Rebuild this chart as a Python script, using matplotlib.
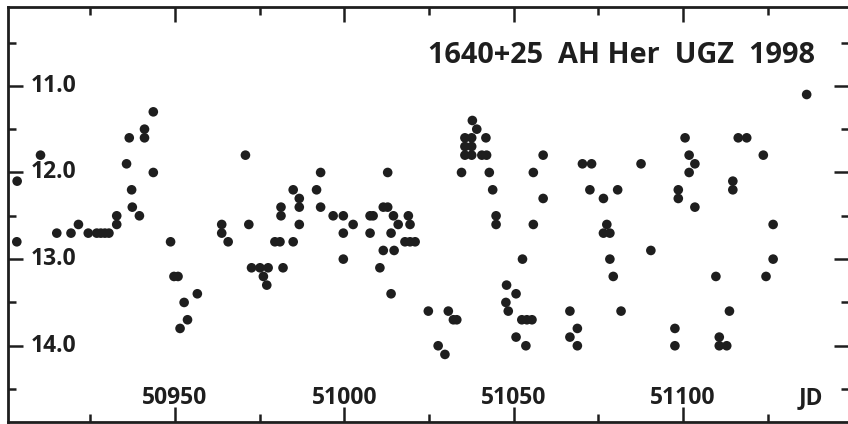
import numpy as np
import matplotlib
matplotlib.use("Agg")
import matplotlib.pyplot as plt
from matplotlib.ticker import MultipleLocator
import matplotlib.transforms as mtransforms

plt.rcParams['font.family'] = ['Open Sans', 'DejaVu Sans']

# AH Her 1998 light curve (JD - 2400000, visual magnitude)
jd = [50903.4, 50903.3, 50910.3, 50915.1, 50919.3, 50921.5, 50924.4, 50926.9,
      50928.1, 50929.3, 50930.5, 50932.8, 50932.8, 50935.7, 50936.5, 50937.2,
      50937.4, 50939.5, 50941.0, 50941.0, 50943.6, 50943.6, 50948.7, 50949.7,
      50950.9, 50952.7, 50953.7, 50951.5, 50956.6, 50963.8, 50963.8, 50965.7,
      50970.8, 50971.8, 50972.6, 50975.1, 50977.5, 50976.1, 50977.1, 50979.5,
      50981.0, 50981.3, 50981.3, 50981.9, 50984.9, 50984.9, 50986.7, 50986.7,
      50986.7, 50991.8, 50993.0, 50993.0, 50996.7, 50999.7, 50999.7, 50999.7,
      51002.6, 51007.6, 51007.6, 51008.5, 51010.5, 51011.5, 51011.5, 51012.8,
      51012.8, 51013.8, 51013.8, 51014.5, 51014.7, 51015.9, 51018.9, 51019.4,
      51017.9, 51019.4, 51020.9, 51024.8, 51027.7, 51029.7, 51030.7, 51032.2,
      51033.2, 51034.6, 51035.6, 51035.6, 51035.6, 51037.6, 51037.6, 51037.6,
      51037.8, 51039.1, 51040.6, 51041.8, 51042.0, 51042.8, 51043.8, 51044.8,
      51044.8, 51047.9, 51047.7, 51048.4, 51050.7, 51050.7, 51052.4, 51052.6,
      51053.6, 51053.9, 51055.4, 51055.8, 51055.8, 51058.7, 51058.7, 51066.6,
      51066.6, 51068.8, 51068.8, 51070.3, 51072.5, 51073.0, 51076.5, 51076.5,
      51077.5, 51078.4, 51078.4, 51079.4, 51080.7, 51081.7, 51087.6, 51090.5,
      51097.6, 51097.6, 51098.6, 51098.6, 51100.6, 51101.8, 51101.8, 51103.5,
      51103.5, 51109.7, 51110.7, 51110.7, 51112.9, 51113.7, 51114.7, 51114.7,
      51116.3, 51118.8, 51123.7, 51124.5, 51126.6, 51126.6, 51136.5]
mag = [12.1, 12.8, 11.8, 12.7, 12.7, 12.6, 12.7, 12.7,
       12.7, 12.7, 12.7, 12.6, 12.5, 11.9, 11.6, 12.2,
       12.4, 12.5, 11.5, 11.6, 11.3, 12.0, 12.8, 13.2,
       13.2, 13.5, 13.7, 13.8, 13.4, 12.6, 12.7, 12.8,
       11.8, 12.6, 13.1, 13.1, 13.1, 13.2, 13.3, 12.8,
       12.8, 12.4, 12.5, 13.1, 12.2, 12.8, 12.3, 12.4,
       12.6, 12.2, 12.0, 12.4, 12.5, 12.5, 12.7, 13.0,
       12.6, 12.5, 12.7, 12.5, 13.1, 12.4, 12.9, 12.0,
       12.4, 12.7, 13.4, 12.5, 12.9, 12.6, 12.5, 12.6,
       12.8, 12.8, 12.8, 13.6, 14.0, 14.1, 13.6, 13.7,
       13.7, 12.0, 11.6, 11.7, 11.8, 11.6, 11.7, 11.8,
       11.4, 11.5, 11.8, 11.6, 11.8, 12.0, 12.2, 12.5,
       12.6, 13.3, 13.5, 13.6, 13.4, 13.9, 13.7, 13.0,
       14.0, 13.7, 13.7, 12.0, 12.6, 11.8, 12.3, 13.6,
       13.9, 13.8, 14.0, 11.9, 12.2, 11.9, 12.3, 12.7,
       12.6, 12.7, 13.0, 13.2, 12.2, 13.6, 11.9, 12.9,
       13.8, 14.0, 12.2, 12.3, 11.6, 11.8, 12.0, 11.9,
       12.4, 13.2, 13.9, 14.0, 14.0, 13.6, 12.1, 12.2,
       11.6, 11.6, 11.8, 13.2, 12.6, 13.0, 11.1]

xticks_labeled = [50950, 51000, 51050, 51100]
yticks_labeled = [11.0, 12.0, 13.0, 14.0]
title = "1640+25  AH Her  UGZ  1998"

ink = "#1e1e1e"

fig = plt.figure(figsize=(8.48, 4.24), dpi=100)
ax = fig.add_axes([8 / 848, 2 / 424, 841 / 848, 415 / 424])

ax.scatter(jd, mag, s=48, color=ink, edgecolors="none", zorder=3)

ax.set_xlim(50900.7, 51149.0)
ax.set_ylim(14.88, 10.09)

ax.xaxis.set_major_locator(MultipleLocator(50))
ax.xaxis.set_minor_locator(MultipleLocator(25))
ax.yaxis.set_major_locator(MultipleLocator(1))
ax.yaxis.set_minor_locator(MultipleLocator(0.5))
ax.tick_params(which="both", direction="in", top=True, right=True,
               labelbottom=False, labelleft=False, color=ink, width=1.8)
ax.tick_params(which="major", length=10.5)
ax.tick_params(which="minor", length=5.5)
for sp in ax.spines.values():
    sp.set_linewidth(2.0)
    sp.set_color(ink)

# labels sit inside the frame
ytrans = mtransforms.blended_transform_factory(ax.transAxes, ax.transData)
for v in yticks_labeled:
    ax.text(23 / 841, v, f"{v:.1f}", transform=ytrans, ha="left", va="center",
            fontsize=16.5, fontweight="bold", color=ink)

xtrans = mtransforms.blended_transform_factory(ax.transData, ax.transAxes)
for v in xticks_labeled:
    ax.text(v, 18 / 415, f"{v}", transform=xtrans, ha="center", va="baseline",
            fontsize=16.5, fontweight="bold", color=ink)
ax.text(803 / 841, 18 / 415, "JD", transform=ax.transAxes, ha="center",
        va="baseline", fontsize=16.5, fontweight="bold", color=ink)

ax.text(807 / 841, 1 - 56 / 415, title, transform=ax.transAxes, ha="right",
        va="baseline", fontsize=20.8, fontweight="bold", color=ink)

fig.savefig("out.png", dpi=100)
